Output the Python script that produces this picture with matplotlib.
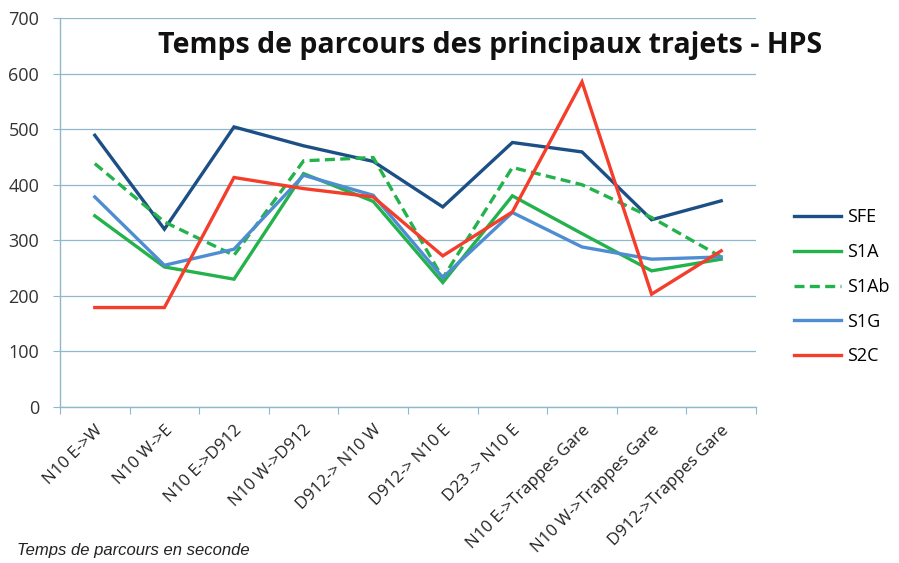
import matplotlib
matplotlib.use("Agg")
import matplotlib.pyplot as plt
import numpy as np

categories = ["N10 E->W", "N10 W->E", "N10 E->D912", "N10 W->D912", "D912-> N10 W",
              "D912-> N10 E", "D23 -> N10 E", "N10 E->Trappes Gare",
              "N10 W->Trappes Gare", "D912->Trappes Gare"]

sfe = [489, 320, 504, 470, 442, 360, 476, 459, 337, 371]
s1a = [344, 252, 230, 420, 370, 224, 380, 312, 245, 266]
s1ab = [438, 333, 273, 443, 449, 232, 431, 400, 341, 270]
s1g = [378, 255, 284, 417, 381, 233, 350, 288, 266, 270]
s2c = [179, 179, 413, 393, 378, 272, 351, 585, 203, 281]

series = [
    ("SFE", sfe, "#1B4F85", "-"),
    ("S1A", s1a, "#23B24B", "-"),
    ("S1Ab", s1ab, "#23B24B", (0, (3, 1.6))),
    ("S1G", s1g, "#4F8DD2", "-"),
    ("S2C", s2c, "#F43D2B", "-"),
]

yticks = [0, 100, 200, 300, 400, 500, 600, 700]
grid_color = "#8FB8CC"

fig = plt.figure(figsize=(8.99, 5.63), dpi=100)
ax = fig.add_axes([60 / 899, 1 - 407 / 563, (756 - 60) / 899, (407 - 18) / 563])

x = np.arange(len(categories))
for name, vals, color, ls in series:
    ax.plot(x, vals, color=color, linestyle=ls, linewidth=2.4, label=name,
            solid_joinstyle="miter", dash_capstyle="butt")

ax.set_xlim(-0.5, len(categories) - 0.5)
ax.set_ylim(0, 700)
ax.set_yticks(yticks)
ax.set_yticklabels([str(v) for v in yticks], fontsize=13, color="#333333",
                   family="Open Sans")
ax.yaxis.grid(True, color=grid_color, linewidth=0.9)
ax.set_axisbelow(True)

# category boundary ticks on the x axis, labels at category centres
ax.set_xticks(np.arange(len(categories) + 1) - 0.5)
ax.set_xticklabels([])
ax.set_xticks(x, minor=True)
ax.set_xticklabels(categories, minor=True, rotation=45, ha="right",
                   rotation_mode="anchor", fontsize=12.2, color="#222222",
                   family="Open Sans")
ax.tick_params(axis="x", which="minor", length=0, pad=11)
ax.tick_params(axis="x", which="major", length=5, color=grid_color, direction="out")
ax.tick_params(axis="y", length=5, color=grid_color, pad=10)

for side in ("top", "right"):
    ax.spines[side].set_visible(False)
for side in ("left", "bottom"):
    ax.spines[side].set_color(grid_color)
    ax.spines[side].set_linewidth(1.0)

fig.text(490 / 899, 1 - 45 / 563, "Temps de parcours des principaux trajets - HPS",
         ha="center", va="center", fontsize=20.5, fontweight="bold",
         family="Open Sans", color="#111111")

leg = fig.legend(loc="upper left", bbox_to_anchor=(778 / 899, 1 - 192 / 563),
                 frameon=False, handlelength=2.6, labelspacing=0.93,
                 handletextpad=0.3, prop={"family": "Open Sans", "size": 13})

fig.text(17 / 899, 1 - 551 / 563, "Temps de parcours en seconde", ha="left",
         va="center", fontsize=12, style="italic", family="Liberation Sans",
         color="#222222")

fig.savefig("out.png", dpi=100)
